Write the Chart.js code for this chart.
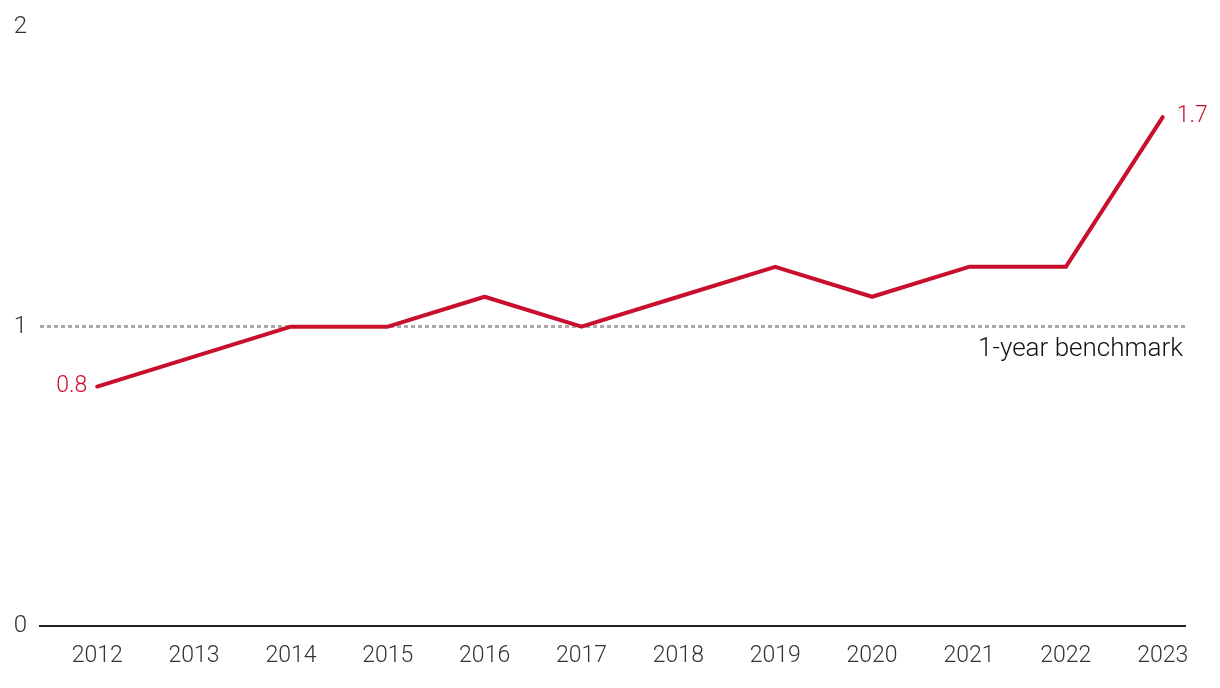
<!DOCTYPE html>
<html>
<head>
<meta charset="utf-8">
<script src="https://cdn.jsdelivr.net/npm/chart.js@4.4.1/dist/chart.umd.min.js"></script>
<style>
  html, body { margin: 0; padding: 0; background: #fff; }
  #wrap { width: 1220px; height: 688px; }
</style>
</head>
<body>
<div id="wrap"><canvas id="grafico" width="1220" height="688"></canvas></div>
<script>
// datos del gráfico
const anios = [2012, 2013, 2014, 2015, 2016, 2017, 2018, 2019, 2020, 2021, 2022, 2023];
const valores = [0.8, 0.9, 1.0, 1.0, 1.1, 1.0, 1.1, 1.2, 1.1, 1.2, 1.2, 1.7];
const ticksY = [0, 1, 2];
const referencia = 1;
const textoReferencia = '1-year benchmark';

const ROJO = '#c8102e';
const FUENTE = "Roboto, 'DejaVu Sans Condensed', sans-serif";

// línea punteada de referencia y etiquetas de los extremos
const pluginExtras = {
    id: 'extras',
    beforeDatasetsDraw(chart) {
        const { ctx, chartArea, scales } = chart;
        const y = Math.round(scales.y.getPixelForValue(referencia)) - 0.5;
        ctx.save();
        ctx.strokeStyle = '#aaaaaa';
        ctx.lineWidth = 3;
        ctx.setLineDash([4, 3]);
        ctx.beginPath();
        ctx.moveTo(chartArea.left, y);
        ctx.lineTo(chartArea.right, y);
        ctx.stroke();
        ctx.restore();
    },
    afterDatasetsDraw(chart) {
        const { ctx, chartArea, scales } = chart;
        const pts = chart.getDatasetMeta(0).data;
        const y = scales.y.getPixelForValue(referencia);
        ctx.save();
        ctx.textBaseline = 'middle';

        ctx.font = '300 26px ' + FUENTE;
        ctx.fillStyle = '#111';
        ctx.textAlign = 'right';
        ctx.fillText(textoReferencia, chartArea.right - 2, y + 23);

        ctx.font = '300 23px ' + FUENTE;
        ctx.fillStyle = ROJO;
        const p0 = pts[0];
        ctx.textAlign = 'right';
        ctx.fillText(valores[0].toFixed(1), p0.x - 10, p0.y);
        const pn = pts[pts.length - 1];
        ctx.textAlign = 'left';
        ctx.fillText(valores[valores.length - 1].toFixed(1), pn.x + 14, pn.y - 1);
        ctx.restore();
    }
};

new Chart(document.getElementById('grafico'), {
    type: 'line',
    data: {
        datasets: [{
            data: anios.map((a, i) => ({ x: a, y: valores[i] })),
            borderColor: ROJO,
            borderWidth: 4,
            borderCapStyle: 'round',
            borderJoinStyle: 'round',
            pointRadius: 0,
            tension: 0
        }]
    },
    options: {
        responsive: false,
        animation: false,
        layout: { padding: { top: 24, right: 35, bottom: 0, left: 0 } },
        plugins: { legend: { display: false }, tooltip: { enabled: false } },
        scales: {
            x: {
                type: 'linear',
                min: 2011.41,
                max: 2023.23,
                afterBuildTicks: s => { s.ticks = anios.map(v => ({ value: v })); },
                afterFit: s => { s.height = 62; },
                grid: { display: false, drawTicks: false },
                border: { display: true, color: '#222', width: 2 },
                ticks: {
                    padding: 16,
                    color: '#333',
                    font: { family: FUENTE, size: 23, weight: '300' },
                    callback: v => String(v),
                    maxRotation: 0,
                    autoSkip: false
                }
            },
            y: {
                min: 0,
                max: 2,
                afterBuildTicks: s => { s.ticks = ticksY.map(v => ({ value: v })); },
                afterFit: s => { s.width = 40; },
                grid: { display: false, drawTicks: false },
                border: { display: false },
                ticks: {
                    padding: 13,
                    color: '#333',
                    font: { family: FUENTE, size: 24, weight: '300' },
                    callback: v => String(v)
                }
            }
        }
    },
    plugins: [pluginExtras]
});
</script>
</body>
</html>
